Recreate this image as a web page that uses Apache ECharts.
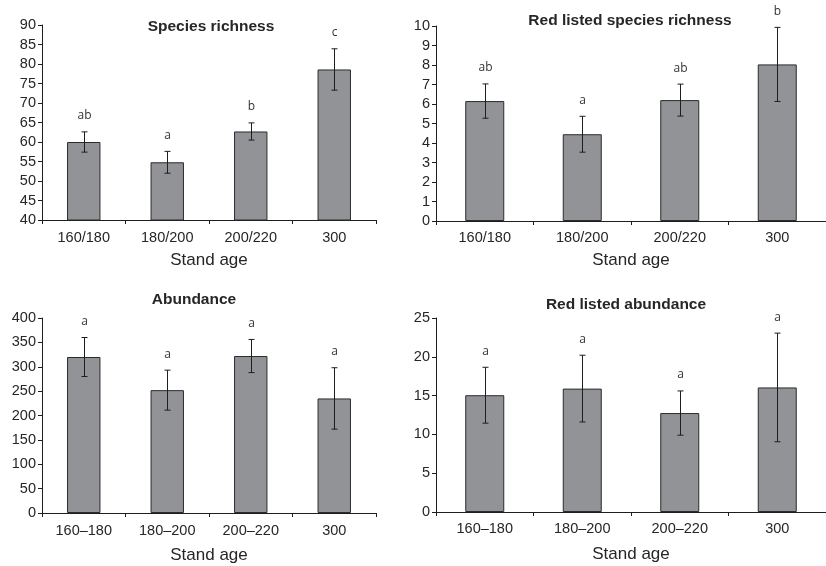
<!DOCTYPE html>
<html>
<head>
<meta charset="utf-8">
<script src="https://cdn.jsdelivr.net/npm/echarts@6/dist/echarts.min.js"></script>
<style>
  html, body { margin: 0; padding: 0; background: #ffffff; }
  #chart { width: 826px; height: 566px; }
</style>
</head>
<body>
<div id="chart"></div>
<script>
// Stand age classes (two label styles are used on the panels)
const standAgeSlash = ['160/180', '180/200', '200/220', '300'];
const standAgeDash = ['160–180', '180–200', '200–220', '300'];

// Species richness: mean, standard error, significance group
const richnessMean = [60.0, 54.8, 62.7, 78.6];
const richnessErr = [2.6, 2.8, 2.2, 5.3];
const richnessGroups = ['ab', 'a', 'b', 'c'];

// Red listed species richness
const redRichnessMean = [6.15, 4.45, 6.2, 8.03];
const redRichnessErr = [0.88, 0.92, 0.82, 1.9];
const redRichnessGroups = ['ab', 'a', 'ab', 'b'];

// Abundance
const abundanceMean = [320, 252, 322, 235];
const abundanceErr = [40, 41, 34, 63];
const abundanceGroups = ['a', 'a', 'a', 'a'];

// Red listed abundance
const redAbundanceMean = [15.05, 15.9, 12.75, 16.05];
const redAbundanceErr = [3.6, 4.3, 2.85, 7.0];
const redAbundanceGroups = ['a', 'a', 'a', 'a'];

// Y-axis ranges per panel
const richnessAxis = { min: 40, max: 90, interval: 5 };
const redRichnessAxis = { min: 0, max: 10, interval: 1 };
const abundanceAxis = { min: 0, max: 400, interval: 50 };
const redAbundanceAxis = { min: 0, max: 25, interval: 5 };

const panels = [
  { title: 'Species richness', cats: standAgeSlash, mean: richnessMean, err: richnessErr, groups: richnessGroups, axis: richnessAxis,
    grid: { left: 42, top: 25, width: 334, height: 195 }, titlePos: { x: 211, y: 19 }, labelGap: 10, nameGap: 32 },
  { title: 'Red listed species richness', cats: standAgeSlash, mean: redRichnessMean, err: redRichnessErr, groups: redRichnessGroups, axis: redRichnessAxis,
    grid: { left: 436, top: 26, width: 399, height: 195 }, titlePos: { x: 630, y: 13 }, labelGap: 9, nameGap: 31 },
  { title: 'Abundance', cats: standAgeDash, mean: abundanceMean, err: abundanceErr, groups: abundanceGroups, axis: abundanceAxis,
    grid: { left: 42, top: 318, width: 334, height: 195 }, titlePos: { x: 194, y: 292 }, labelGap: 10, nameGap: 34 },
  { title: 'Red listed abundance', cats: standAgeDash, mean: redAbundanceMean, err: redAbundanceErr, groups: redAbundanceGroups, axis: redAbundanceAxis,
    grid: { left: 436, top: 318, width: 399, height: 194 }, titlePos: { x: 626, y: 297 }, labelGap: 9, nameGap: 34 }
];

const INK = '#1e1e1e';
const TEXT = '#262626';
const FONT = '"Liberation Sans", Arial, sans-serif';

const option = {
  backgroundColor: '#ffffff',
  animation: false,
  title: panels.map(p => ({
    text: p.title,
    left: p.titlePos.x,
    top: p.titlePos.y,
    textAlign: 'center',
    padding: 0,
    textStyle: { fontFamily: FONT, fontWeight: 'bold', fontSize: 15.5, color: TEXT }
  })),
  grid: panels.map(p => Object.assign({ containLabel: false }, p.grid)),
  xAxis: panels.map((p, i) => ({
    type: 'category',
    gridIndex: i,
    data: p.cats,
    name: 'Stand age',
    nameLocation: 'middle',
    nameGap: p.nameGap,
    nameTextStyle: { fontFamily: FONT, fontSize: 17, color: TEXT },
    axisLine: { show: true, lineStyle: { color: INK, width: 1 } },
    axisTick: { show: true, alignWithLabel: false, length: 4, lineStyle: { color: INK } },
    axisLabel: { fontFamily: FONT, fontSize: 14.5, color: TEXT, margin: p.labelGap, interval: 0 },
    splitLine: { show: false }
  })),
  yAxis: panels.map((p, i) => ({
    type: 'value',
    gridIndex: i,
    min: p.axis.min,
    max: p.axis.max,
    interval: p.axis.interval,
    axisLine: { show: true, lineStyle: { color: INK, width: 1 } },
    axisTick: { show: true, length: 4, lineStyle: { color: INK } },
    axisLabel: { fontFamily: FONT, fontSize: 14.5, color: TEXT, margin: 6 },
    splitLine: { show: false }
  })),
  series: []
};

panels.forEach((p, i) => {
  option.series.push({
    type: 'bar',
    xAxisIndex: i,
    yAxisIndex: i,
    data: p.mean,
    barWidth: '40%',
    clip: true,
    itemStyle: { color: '#929397', borderColor: '#2b2b2b', borderWidth: 1 }
  });
  option.series.push({
    type: 'custom',
    xAxisIndex: i,
    yAxisIndex: i,
    data: p.mean.map((m, k) => [k, m, p.err[k]]),
    z: 3,
    renderItem: (params, api) => {
      const k = api.value(0), m = api.value(1), e = api.value(2);
      const hi = api.coord([k, m + e]);
      const lo = api.coord([k, m - e]);
      const x = Math.round(hi[0]) + 0.5;
      const cap = 3;
      const st = { stroke: INK, lineWidth: 1 };
      return {
        type: 'group',
        children: [
          { type: 'line', shape: { x1: x, y1: hi[1], x2: x, y2: lo[1] }, style: st },
          { type: 'line', shape: { x1: x - cap, y1: hi[1], x2: x + cap, y2: hi[1] }, style: st },
          { type: 'line', shape: { x1: x - cap, y1: lo[1], x2: x + cap, y2: lo[1] }, style: st },
          { type: 'text', x: x, y: hi[1] - 16,
            style: { text: p.groups[params.dataIndex], align: 'center', verticalAlign: 'middle',
                     fontFamily: '"Open Sans", sans-serif', fontSize: 12, fill: '#333333' } }
        ]
      };
    }
  });
});

const chart = echarts.init(document.getElementById('chart'), null, { renderer: 'canvas' });
chart.setOption(option);
</script>
</body>
</html>
